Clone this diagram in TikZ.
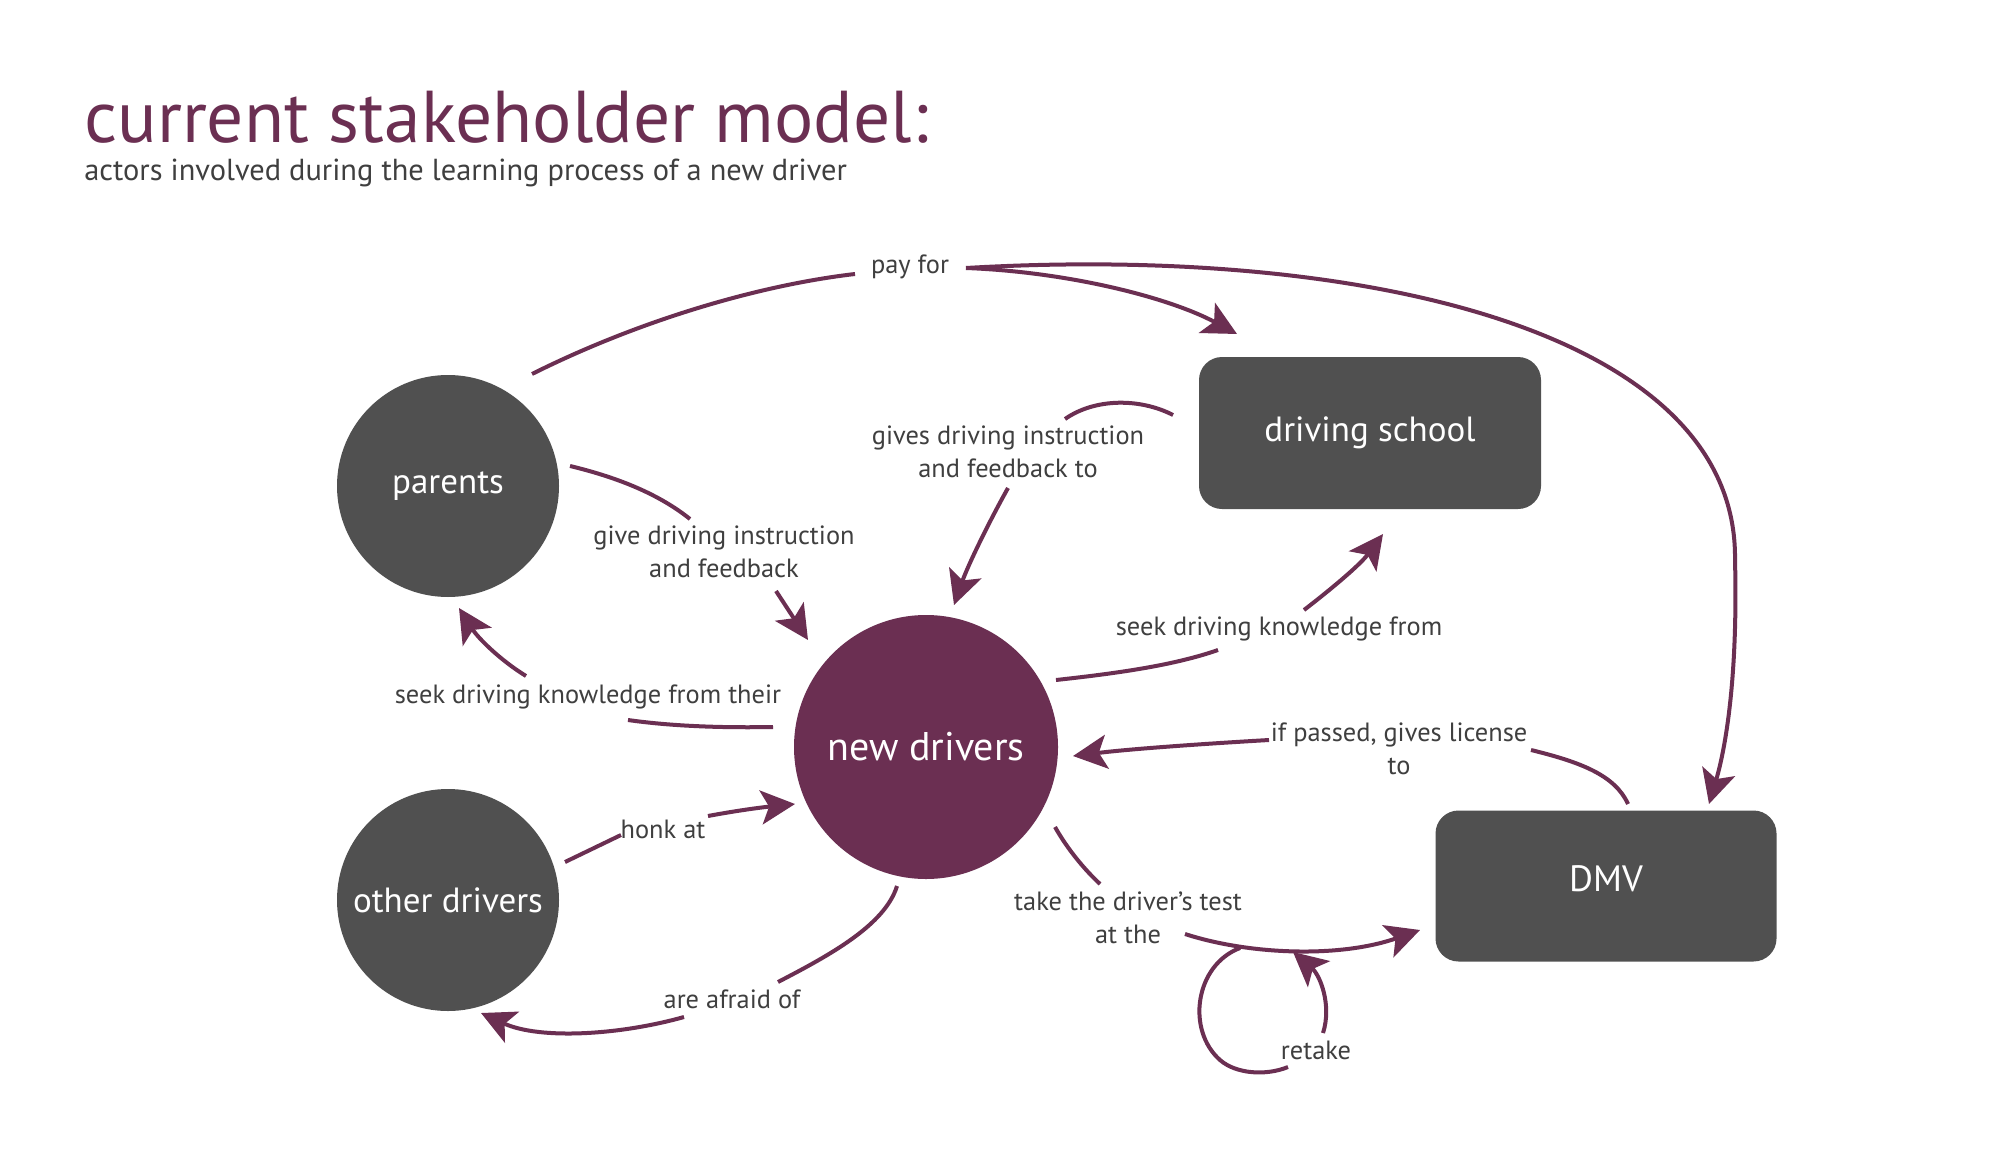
\documentclass[tikz,border=0pt]{standalone}
\usepackage{fontspec}
\setmainfont{PT Sans}
\usetikzlibrary{arrows.meta}
\definecolor{plum}{HTML}{6B2F52}
\definecolor{slate}{HTML}{505050}
\definecolor{ink}{HTML}{3F3F3F}
\begin{document}
\begin{tikzpicture}[x=0.5pt,y=-0.5pt,
  conn/.style={draw=plum, line width=2pt},
  arr/.style={conn, -{Stealth[length=17pt,width=17pt,inset=4pt]}},
  lbl/.style={text=ink, font=\fontsize{13.2}{16.5}\selectfont, align=center, inner sep=0pt},
  circ/.style={circle, fill=slate, text=white, minimum size=111pt, inner sep=0pt, font=\fontsize{17.5}{20}\selectfont},
  box/.style={rectangle, rounded corners=11.5pt, fill=slate, text=white, font=\fontsize{17.5}{20}\selectfont}
]
\useasboundingbox[fill=white] (0,0) rectangle (2000,1166);

% title
\node[anchor=base west, inner sep=0pt, text=plum, font=\fontsize{36.7}{40}\selectfont] (title) at (84,143) {current stakeholder model:};
\node[anchor=base west, inner sep=0pt, text=ink, font=\fontsize{15.2}{16}\selectfont] (subtitle) at (84,181) {actors involved during the learning process of a new driver};

% actors
\node[circ] (parents) at (448,486) {parents};
\node[circ] (others) at (448,900) {other drivers};
\node[circ, fill=plum, minimum size=132pt, font=\fontsize{20}{22}\selectfont] (new) at (926,747) {new drivers};
\node[box, minimum width=171pt, minimum height=76pt] (school) at (1370,433) {driving school};
\node[box, minimum width=170.5pt, minimum height=75.5pt, font=\fontsize{18.3}{20}\selectfont, text height=12.8pt, text depth=7pt] (dmv) at (1606,886) {DMV};

% labels
\node[lbl] (payfor) at (910,267) {pay for};
\node[lbl] (givepar) at (724,552) {give driving instruction\\and feedback};
\node[lbl] (seekpar) at (588,697) {seek driving knowledge from their};
\node[lbl] (givesch) at (1008,452) {gives driving instruction\\and feedback to};
\node[lbl] (seeksch) at (1279,629) {seek driving knowledge from};
\node[lbl] (license) at (1399,749) {if passed, gives license\\to};
\node[lbl] (test) at (1128,918) {take the driver’s test\\at the};
\node[lbl] (retake) at (1316,1050) {retake};
\node[lbl] (honk) at (663,829) {honk at};
\node[lbl] (afraid) at (732,999) {are afraid of};

% pay for
\coordinate (pa0) at (532,374);
\coordinate (pa1) at (855,274);
\coordinate (pa2) at (966,268);
\coordinate (pa3) at (1237,334);
\coordinate (pa4) at (1735,560);
\coordinate (pa5) at (1709,804);
\draw[conn] (pa0) .. controls (640,320) and (760,285) .. (pa1);
\draw[arr] (pa2) .. controls (1070,272) and (1170,298) .. (pa3);
\draw[arr] (pa2) .. controls (1360,245) and (1738,330) .. (pa4) .. controls (1738,680) and (1725,750) .. (pa5);

% parents -> new drivers
\coordinate (gp0) at (570,466);
\coordinate (gp1) at (690,519);
\coordinate (gp2) at (776,591);
\coordinate (gp3) at (808,640);
\draw[conn] (gp0) .. controls (620,478) and (660,495) .. (gp1);
\draw[arr] (gp2) -- (gp3);

% new drivers -> parents
\coordinate (sp0) at (773,727);
\coordinate (sp1) at (628,720);
\coordinate (sp2) at (526,676);
\coordinate (sp3) at (459,608);
\draw[conn] (sp0) .. controls (720,728) and (670,726) .. (sp1);
\draw[arr] (sp2) .. controls (500,660) and (478,638) .. (sp3);

% driving school -> new drivers
\coordinate (gs0) at (1173,415);
\coordinate (gs1) at (1065,419);
\coordinate (gs2) at (1008,488);
\coordinate (gs3) at (954,605);
\draw[conn] (gs0) .. controls (1140,398) and (1095,398) .. (gs1);
\draw[arr] (gs2) .. controls (990,520) and (968,565) .. (gs3);

% new drivers -> driving school
\coordinate (ss0) at (1056,680);
\coordinate (ss1) at (1218,650);
\coordinate (ss2) at (1304,610);
\coordinate (ss3) at (1383,534);
\draw[conn] (ss0) .. controls (1120,673) and (1175,665) .. (ss1);
\draw[arr] (ss2) .. controls (1330,590) and (1360,565) .. (ss3);

% DMV -> new drivers
\coordinate (li0) at (1628,804);
\coordinate (li1) at (1531,750);
\coordinate (li2) at (1269,740);
\coordinate (li3) at (1073,756);
\draw[conn] (li0) .. controls (1615,775) and (1580,762) .. (li1);
\draw[arr] (li2) .. controls (1200,744) and (1130,749) .. (li3);

% new drivers -> DMV
\coordinate (te0) at (1055,827);
\coordinate (te1) at (1100,884);
\coordinate (te2) at (1185,934);
\coordinate (te3) at (1420,930);
\draw[conn] (te0) .. controls (1068,850) and (1085,870) .. (te1);
\draw[arr] (te2) .. controls (1250,955) and (1340,958) .. (te3);

% retake loop
\coordinate (re0) at (1240,948);
\coordinate (re1) at (1288,1067);
\coordinate (re2) at (1323,1033);
\coordinate (re3) at (1293,952);
\draw[conn] (re0) .. controls (1195,965) and (1186,1030) .. (1220,1060) .. controls (1236,1074) and (1266,1076) .. (re1);
\draw[arr] (re2) .. controls (1332,1005) and (1320,975) .. (re3);

% other drivers -> new drivers
\coordinate (ho0) at (565,862);
\coordinate (ho1) at (621,835);
\coordinate (ho2) at (708,816);
\coordinate (ho3) at (795,804);
\draw[conn] (ho0) -- (ho1);
\draw[arr] (ho2) .. controls (740,810) and (765,807) .. (ho3);

% new drivers -> other drivers
\coordinate (af0) at (897,886);
\coordinate (af1) at (778,982);
\coordinate (af2) at (684,1017);
\coordinate (af3) at (481,1013);
\draw[conn] (af0) .. controls (885,925) and (830,955) .. (af1);
\draw[arr] (af2) .. controls (620,1035) and (540,1040) .. (af3);
\end{tikzpicture}
\end{document}
